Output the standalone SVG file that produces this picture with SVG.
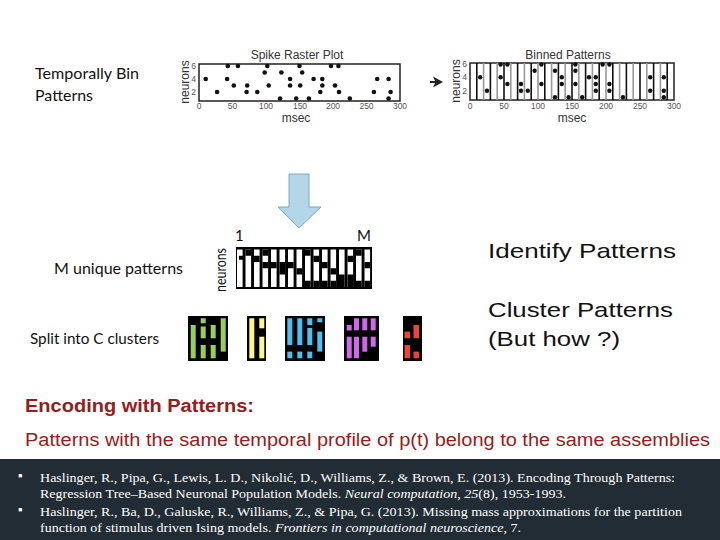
<svg xmlns="http://www.w3.org/2000/svg" width="720" height="540" viewBox="0 0 720 540">
<style>
.lbl{font-family:Lato,"Liberation Sans",sans-serif;font-size:15px;fill:#111}
.big{font-family:"Liberation Sans",Arial,sans-serif;font-size:21px;fill:#111}
.enc{font-family:"Liberation Sans",Arial,sans-serif;font-size:18px;fill:#961c1c}
.ax{font-family:"Liberation Sans",Arial,sans-serif;font-size:8.5px;fill:#555}
.axt{font-family:"Liberation Sans",Arial,sans-serif;font-size:12px;fill:#333}
.ref{font-family:"Liberation Serif","Times New Roman",serif;font-size:13px;fill:#fff}
.frame{fill:#fff;stroke:#222;stroke-width:1.5}
.dot{fill:#111}
.binb{stroke:#111;stroke-width:1.6}
.bing{stroke:#999;stroke-width:1.6}
.wb{fill:#fff}
.blk{fill:#000}
</style>
<rect width="720" height="540" fill="#fff"/>

<g id="labels-left">
<text class="lbl" x="35" y="79" textLength="104" lengthAdjust="spacingAndGlyphs">Temporally Bin</text>
<text class="lbl" x="35" y="101" textLength="58" lengthAdjust="spacingAndGlyphs">Patterns</text>
<text class="lbl" x="54" y="274" textLength="129" lengthAdjust="spacingAndGlyphs">M unique patterns</text>
<text class="lbl" x="30" y="344" textLength="129" lengthAdjust="spacingAndGlyphs">Split into C clusters</text>
</g>

<g id="raster-plot">
<text class="axt" x="297" y="59" text-anchor="middle">Spike Raster Plot</text>
<rect class="frame" x="199" y="64" width="201" height="37"/>
<g class="ax" text-anchor="middle">
<text x="199" y="109">0</text><text x="232.5" y="109">50</text><text x="266" y="109">100</text><text x="300" y="109">150</text><text x="333" y="109">200</text><text x="366.5" y="109">250</text><text x="400" y="109">300</text>
</g>
<g class="ax" text-anchor="end">
<text x="196" y="69">6</text><text x="196" y="82">4</text><text x="196" y="95">2</text>
</g>
<text class="axt" x="296" y="122" text-anchor="middle" font-size="10">msec</text>
<text class="axt" transform="translate(189,82) rotate(-90)" text-anchor="middle" font-size="10" fill="#555">neurons</text>
<g class="dot">
<circle cx="227.8" cy="66" r="2.3"/><circle cx="237.9" cy="66" r="2.3"/><circle cx="267.3" cy="66" r="2.3"/><circle cx="299.5" cy="66" r="2.3"/><circle cx="331" cy="66" r="2.3"/><circle cx="338.4" cy="66" r="2.3"/>
<circle cx="264.7" cy="72.5" r="2.3"/><circle cx="281.4" cy="72.5" r="2.3"/><circle cx="302.2" cy="72.5" r="2.3"/>
<circle cx="205.7" cy="79" r="2.3"/><circle cx="227.1" cy="79" r="2.3"/><circle cx="290.1" cy="79" r="2.3"/><circle cx="313.6" cy="79" r="2.3"/><circle cx="322.3" cy="79" r="2.3"/><circle cx="377.2" cy="79" r="2.3"/><circle cx="388.6" cy="79" r="2.3"/>
<circle cx="233.8" cy="85.5" r="2.3"/><circle cx="247.2" cy="85.5" r="2.3"/><circle cx="268.7" cy="85.5" r="2.3"/><circle cx="290.1" cy="85.5" r="2.3"/><circle cx="300.2" cy="85.5" r="2.3"/><circle cx="322.3" cy="85.5" r="2.3"/><circle cx="335" cy="85.5" r="2.3"/>
<circle cx="217.1" cy="92" r="2.3"/><circle cx="246.6" cy="92" r="2.3"/><circle cx="257.3" cy="92" r="2.3"/><circle cx="320.3" cy="92" r="2.3"/><circle cx="339" cy="92" r="2.3"/><circle cx="373.9" cy="92" r="2.3"/><circle cx="390.6" cy="92" r="2.3"/>
<circle cx="280.1" cy="98.5" r="2.3"/><circle cx="296.2" cy="98.5" r="2.3"/><circle cx="308.9" cy="98.5" r="2.3"/><circle cx="349.8" cy="98.5" r="2.3"/><circle cx="388.6" cy="98.5" r="2.3"/>
</g>
</g>

<g id="bin-arrow">
<path d="M430,82 H436" stroke="#222" stroke-width="2"/>
<polygon points="433,76.5 443,82 433,87.5 435.5,82" fill="#222"/>
</g>

<g id="binned-plot">
<text class="axt" x="568" y="59" text-anchor="middle">Binned Patterns</text>
<rect class="frame" x="470" y="63" width="204" height="37"/>
<g>
<line class="binb" x1="476.8" y1="63" x2="476.8" y2="100"/><line class="bing" x1="483.6" y1="63" x2="483.6" y2="100"/><line class="binb" x1="490.4" y1="63" x2="490.4" y2="100"/><line class="bing" x1="497.2" y1="63" x2="497.2" y2="100"/><line class="binb" x1="504" y1="63" x2="504" y2="100"/><line class="bing" x1="510.8" y1="63" x2="510.8" y2="100"/><line class="binb" x1="517.6" y1="63" x2="517.6" y2="100"/><line class="bing" x1="524.4" y1="63" x2="524.4" y2="100"/><line class="binb" x1="531.2" y1="63" x2="531.2" y2="100"/><line class="bing" x1="538" y1="63" x2="538" y2="100"/><line class="binb" x1="544.8" y1="63" x2="544.8" y2="100"/><line class="bing" x1="551.6" y1="63" x2="551.6" y2="100"/><line class="binb" x1="558.4" y1="63" x2="558.4" y2="100"/><line class="bing" x1="565.2" y1="63" x2="565.2" y2="100"/><line class="binb" x1="572" y1="63" x2="572" y2="100"/><line class="bing" x1="578.8" y1="63" x2="578.8" y2="100"/><line class="binb" x1="585.6" y1="63" x2="585.6" y2="100"/><line class="bing" x1="592.4" y1="63" x2="592.4" y2="100"/><line class="binb" x1="599.2" y1="63" x2="599.2" y2="100"/><line class="bing" x1="606" y1="63" x2="606" y2="100"/><line class="binb" x1="612.8" y1="63" x2="612.8" y2="100"/><line class="bing" x1="619.6" y1="63" x2="619.6" y2="100"/><line class="binb" x1="626.4" y1="63" x2="626.4" y2="100"/><line class="bing" x1="633.2" y1="63" x2="633.2" y2="100"/><line class="binb" x1="640" y1="63" x2="640" y2="100"/><line class="bing" x1="646.8" y1="63" x2="646.8" y2="100"/><line class="binb" x1="653.6" y1="63" x2="653.6" y2="100"/><line class="bing" x1="660.4" y1="63" x2="660.4" y2="100"/><line class="binb" x1="667.2" y1="63" x2="667.2" y2="100"/>
</g>
<g class="ax" text-anchor="middle">
<text x="470" y="109">0</text><text x="504" y="109">50</text><text x="538" y="109">100</text><text x="572" y="109">150</text><text x="606" y="109">200</text><text x="640" y="109">250</text><text x="674" y="109">300</text>
</g>
<g class="ax" text-anchor="end">
<text x="467" y="67">6</text><text x="467" y="80">4</text><text x="467" y="94">2</text>
</g>
<text class="axt" x="572" y="122" text-anchor="middle" font-size="10">msec</text>
<text class="axt" transform="translate(460,81) rotate(-90)" text-anchor="middle" font-size="10" fill="#555">neurons</text>
<g class="dot">
<circle cx="500.6" cy="64.5" r="2.2"/><circle cx="507.4" cy="64.5" r="2.2"/><circle cx="541.4" cy="64.5" r="2.2"/><circle cx="575.4" cy="64.5" r="2.2"/><circle cx="602.6" cy="64.5" r="2.2"/><circle cx="609.4" cy="64.5" r="2.2"/>
<circle cx="534.6" cy="70.7" r="2.2"/><circle cx="555" cy="70.7" r="2.2"/><circle cx="575.4" cy="70.7" r="2.2"/>
<circle cx="480.2" cy="77.3" r="2.2"/><circle cx="500.6" cy="77.3" r="2.2"/><circle cx="561.8" cy="77.3" r="2.2"/><circle cx="589" cy="77.3" r="2.2"/><circle cx="595.8" cy="77.3" r="2.2"/><circle cx="650.2" cy="77.3" r="2.2"/><circle cx="663.8" cy="77.3" r="2.2"/>
<circle cx="507.4" cy="84" r="2.2"/><circle cx="521" cy="84" r="2.2"/><circle cx="541.4" cy="84" r="2.2"/><circle cx="561.8" cy="84" r="2.2"/><circle cx="575.4" cy="84" r="2.2"/><circle cx="595.8" cy="84" r="2.2"/><circle cx="609.4" cy="84" r="2.2"/>
<circle cx="487" cy="90.7" r="2.2"/><circle cx="521" cy="90.7" r="2.2"/><circle cx="527.8" cy="90.7" r="2.2"/><circle cx="595.8" cy="90.7" r="2.2"/><circle cx="609.4" cy="90.7" r="2.2"/><circle cx="650.2" cy="90.7" r="2.2"/><circle cx="663.8" cy="90.7" r="2.2"/>
<circle cx="555" cy="97.3" r="2.2"/><circle cx="568.6" cy="97.3" r="2.2"/><circle cx="582.2" cy="97.3" r="2.2"/><circle cx="623" cy="97.3" r="2.2"/><circle cx="663.8" cy="97.3" r="2.2"/>
</g>
</g>

<g id="down-arrow">
<path d="M289,174 H309 V207 H321 L299,228 L278,207 H289 Z" fill="#b3d7e8" stroke="#7aa8c6" stroke-width="1"/>
</g>

<g id="unique-patterns">
<text class="lbl" x="235" y="241" font-size="12">1</text>
<text class="lbl" x="357" y="241" font-size="12">M</text>
<text class="lbl" transform="translate(226,270) rotate(-90)" text-anchor="middle" font-size="11" fill="#444" textLength="44" lengthAdjust="spacingAndGlyphs">neurons</text>
<rect class="blk" x="236" y="247" width="136" height="42"/>
<g class="wb">
<rect x="237" y="249.5" width="5.6" height="37.5"/><rect x="245.5" y="249.5" width="5.6" height="37.5"/><rect x="254" y="249.5" width="5.6" height="37.5"/><rect x="262.5" y="249.5" width="5.6" height="37.5"/><rect x="271" y="249.5" width="5.6" height="37.5"/><rect x="279.5" y="249.5" width="5.6" height="37.5"/><rect x="288" y="249.5" width="5.6" height="37.5"/><rect x="296.5" y="249.5" width="5.6" height="37.5"/><rect x="305" y="249.5" width="5.6" height="37.5"/><rect x="313.5" y="249.5" width="5.6" height="37.5"/><rect x="322" y="249.5" width="5.6" height="37.5"/><rect x="330.5" y="249.5" width="5.6" height="37.5"/><rect x="339" y="249.5" width="5.6" height="37.5"/><rect x="347.5" y="249.5" width="5.6" height="37.5"/><rect x="356" y="249.5" width="5.6" height="37.5"/><rect x="364.5" y="249.5" width="5.6" height="37.5"/>
</g>
<g class="blk">
<rect x="239" y="255.75" width="4" height="4"/>
<rect x="245.5" y="249.5" width="5.6" height="6.25"/>
<rect x="254" y="255.75" width="5.6" height="6.25"/>
<rect x="262.5" y="249.5" width="5.6" height="6.25"/><rect x="262.5" y="262" width="5.6" height="6.25"/>
<rect x="271" y="262" width="5.6" height="6.25"/>
<rect x="279.5" y="262" width="5.6" height="12.5"/>
<rect x="288" y="262" width="5.6" height="6.25"/>
<rect x="296.5" y="268.25" width="5.6" height="6.25"/>
<rect x="305" y="249.5" width="5.6" height="6.25"/><rect x="305" y="280.75" width="5.6" height="6.25"/>
<rect x="313.5" y="255.75" width="5.6" height="6.25"/><rect x="313.5" y="280.75" width="5.6" height="6.25"/>
<rect x="322" y="262" width="5.6" height="6.25"/><rect x="322" y="280.75" width="5.6" height="6.25"/>
<rect x="330.5" y="268.25" width="5.6" height="6.25"/><rect x="330.5" y="280.75" width="5.6" height="6.25"/>
<rect x="339" y="274.5" width="5.6" height="12.5"/>
<rect x="347.5" y="255.75" width="5.6" height="6.25"/><rect x="347.5" y="274.5" width="5.6" height="12.5"/>
<rect x="356" y="249.5" width="5.6" height="6.25"/><rect x="356" y="280.75" width="5.6" height="6.25"/>
<rect x="364.5" y="262" width="5.6" height="6.25"/><rect x="364.5" y="280.75" width="5.6" height="6.25"/>
</g>
</g>

<g id="clusters">
<g id="cluster-green">
<rect class="blk" x="188" y="316" width="40" height="45"/>
<g fill="#9acd5a">
<rect x="190.7" y="325" width="5" height="33.3"/>
<rect x="200.7" y="318.3" width="5" height="5"/><rect x="200.7" y="326.5" width="5" height="11.8"/><rect x="200.7" y="345" width="5" height="13.3"/>
<rect x="210.7" y="325" width="5" height="13.3"/><rect x="210.7" y="345" width="5" height="13.3"/>
<rect x="220.7" y="318.3" width="5" height="33.3"/>
</g>
</g>
<g id="cluster-yellow">
<rect class="blk" x="247" y="316" width="19" height="45"/>
<g fill="#fbf98a">
<rect x="249.3" y="318.3" width="5" height="40"/>
<rect x="259.3" y="318.3" width="5" height="10"/><rect x="259.3" y="336.7" width="5" height="21.6"/>
</g>
</g>
<g id="cluster-blue">
<rect class="blk" x="285" y="316" width="40" height="45"/>
<g fill="#4ec0ee">
<rect x="287.3" y="318.3" width="5" height="26.7"/><rect x="287.3" y="351.6" width="5" height="6.7"/>
<rect x="297.3" y="318.3" width="5" height="26.7"/><rect x="297.3" y="351.6" width="5" height="6.7"/>
<rect x="307.3" y="318.3" width="5" height="6.7"/><rect x="307.3" y="328" width="5" height="17"/><rect x="307.3" y="351.6" width="5" height="6.7"/>
<rect x="317.3" y="318.3" width="5" height="4"/><rect x="317.3" y="331.6" width="5" height="20"/>
</g>
</g>
<g id="cluster-purple">
<rect class="blk" x="344" y="316" width="35" height="45"/>
<g fill="#cf69ea">
<rect x="346.7" y="325" width="5" height="5.5"/><rect x="346.7" y="336.7" width="5" height="21.6"/>
<rect x="354" y="318.3" width="5" height="12"/><rect x="354" y="336.7" width="5" height="21.6"/>
<rect x="362.3" y="318.3" width="5" height="12"/><rect x="362.3" y="336.7" width="5" height="15"/>
<rect x="370.7" y="318.3" width="5" height="12"/><rect x="370.7" y="336.7" width="5" height="10"/>
</g>
</g>
<g id="cluster-red">
<rect class="blk" x="403" y="316" width="19" height="45"/>
<g fill="#ee4433">
<rect x="404.5" y="331.6" width="5.5" height="6.7"/><rect x="404.5" y="345" width="5.5" height="13.3"/>
<rect x="413.5" y="325" width="5.5" height="13.3"/><rect x="413.5" y="351.6" width="5.5" height="6.7"/>
</g>
</g>
</g>

<g id="labels-right">
<text class="big" x="488" y="258" textLength="188" lengthAdjust="spacingAndGlyphs">Identify Patterns</text>
<text class="big" x="488" y="317" textLength="185" lengthAdjust="spacingAndGlyphs">Cluster Patterns</text>
<text class="big" x="488" y="346" textLength="132" lengthAdjust="spacingAndGlyphs">(But how ?)</text>
</g>

<g id="encoding">
<text class="enc" x="25" y="412" font-weight="bold" textLength="229" lengthAdjust="spacingAndGlyphs">Encoding with Patterns:</text>
<text class="enc" x="25" y="446" textLength="685" lengthAdjust="spacingAndGlyphs">Patterns with the same temporal profile of p(t) belong to the same assemblies</text>
</g>

<g id="references">
<rect x="0" y="459" width="720" height="81" fill="#212c34"/>
<text class="ref" x="18" y="480" font-family="DejaVu Sans,sans-serif" font-size="9">▪</text>
<text class="ref" x="18" y="514" font-family="DejaVu Sans,sans-serif" font-size="9">▪</text>
<text class="ref" x="40" y="482" textLength="635" lengthAdjust="spacingAndGlyphs">Haslinger, R., Pipa, G., Lewis, L. D., Nikolić, D., Williams, Z., &amp; Brown, E. (2013). Encoding Through Patterns:</text>
<text class="ref" x="40" y="498" textLength="526" lengthAdjust="spacingAndGlyphs">Regression Tree–Based Neuronal Population Models. <tspan font-style="italic">Neural computation</tspan>, <tspan font-style="italic">25</tspan>(8), 1953-1993.</text>
<text class="ref" x="40" y="516" textLength="642" lengthAdjust="spacingAndGlyphs">Haslinger, R., Ba, D., Galuske, R., Williams, Z., &amp; Pipa, G. (2013). Missing mass approximations for the partition</text>
<text class="ref" x="40" y="532" textLength="481" lengthAdjust="spacingAndGlyphs">function of stimulus driven Ising models. <tspan font-style="italic">Frontiers in computational neuroscience</tspan>, 7.</text>
</g>
</svg>
